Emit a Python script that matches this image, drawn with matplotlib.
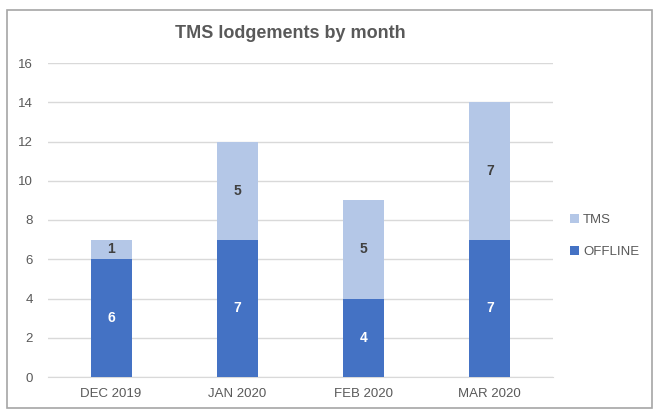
import matplotlib.pyplot as plt
from matplotlib.patches import Rectangle

months = ['DEC 2019', 'JAN 2020', 'FEB 2020', 'MAR 2020']
offline = [6, 7, 4, 7]
tms = [1, 5, 5, 7]

plt.rcParams['font.family'] = ['Liberation Sans', 'DejaVu Sans']

fig = plt.figure(figsize=(6.58, 4.12), dpi=100)
fig.patches.append(Rectangle((7 / 658, 4 / 412), 645 / 658, 398 / 412, transform=fig.transFigure,
                             fill=False, edgecolor='#A6A6A6', linewidth=1.2))
ax = fig.add_axes([48 / 658, 1 - 377 / 412, 505 / 658, 314 / 412])

x = range(len(months))
b1 = ax.bar(x, offline, width=0.325, color='#4472C4', label='OFFLINE', zorder=3)
b2 = ax.bar(x, tms, width=0.325, bottom=offline, color='#B4C7E7', label='TMS', zorder=3)

for i in x:
    ax.text(i, offline[i] / 2, str(offline[i]), ha='center', va='center',
            color='white', fontsize=10, fontweight='bold', zorder=4)
    ax.text(i, offline[i] + tms[i] / 2, str(tms[i]), ha='center', va='center',
            color='#404040', fontsize=10, fontweight='bold', zorder=4)

ax.set_xlim(-0.5, 3.5)
ax.set_ylim(0, 16)
ax.set_yticks(range(0, 17, 2))
ax.set_xticks(list(x))
ax.set_xticklabels(months)
ax.yaxis.grid(True, color='#D9D9D9', linewidth=1, zorder=0)
for s in ['top', 'right', 'left']:
    ax.spines[s].set_visible(False)
ax.spines['bottom'].set_color('#D9D9D9')
ax.tick_params(axis='both', length=0, colors='#595959', labelsize=9.5)
ax.tick_params(axis='y', pad=11)
ax.tick_params(axis='x', pad=8)

fig.text(290 / 658, 1 - 34 / 412, 'TMS lodgements by month', ha='center', va='center',
         fontsize=13, fontweight='bold', color='#595959')

handles, labels = ax.get_legend_handles_labels()
fig.legend(handles[::-1], labels[::-1], loc='center left', bbox_to_anchor=(558 / 658, 1 - 236 / 412),
           frameon=False, fontsize=9.5, labelcolor='#595959', handlelength=0.7, handleheight=0.7,
           handletextpad=0.3, labelspacing=1.5)

fig.savefig('out.png', dpi=100)
